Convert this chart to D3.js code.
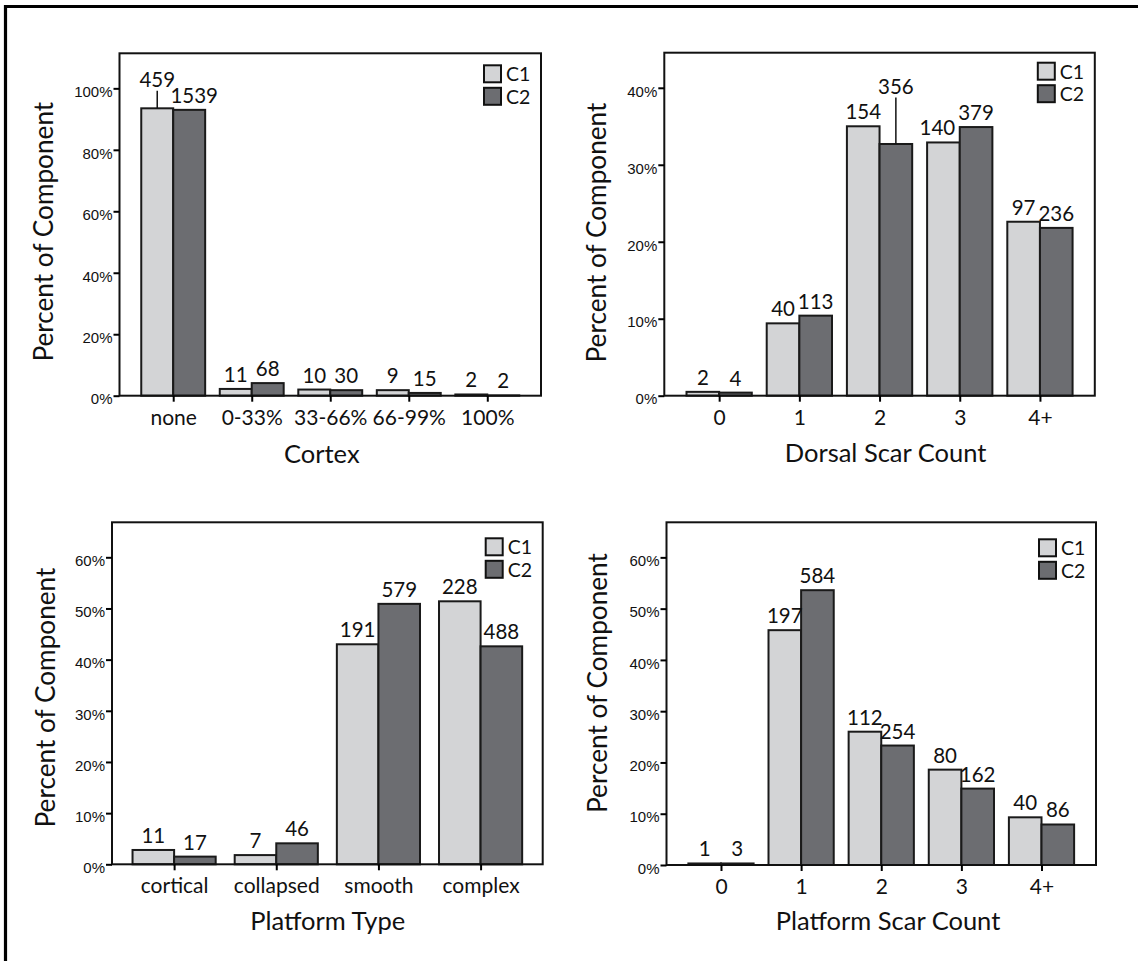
<!DOCTYPE html>
<html>
  <head>
    <meta charset="utf-8">
    <script src="https://d3js.org/d3.v7.min.js"></script>
    <style>
      body {
        margin: 0;
        background: #fff;
      }
      .tick line {
        stroke: #000;
        stroke-width: 2px;
      }
      .ytick text {
        font-family: "Liberation Sans", Arial, sans-serif;
        font-size: 15px;
        fill: #111;
      }
      .cat text, .val, .legend text {
        font-family: Lato, "Open Sans", sans-serif;
        fill: #111;
      }
      .title {
        font-family: Lato, "Open Sans", sans-serif;
        font-size: 25.5px;
        fill: #111;
      }
    </style>
  </head>
  <body>
    <div id="chart"></div>
    <script>
      // ---- data (percent of component, and counts shown above bars) ----
      var cortexCats = ["none", "0-33%", "33-66%", "66-99%", "100%"];
      var cortexC1 = [93.5, 2.2, 2.0, 1.8, 0.4];
      var cortexC2 = [93.0, 4.1, 1.8, 0.9, 0.1];
      var cortexN1 = [459, 11, 10, 9, 2];
      var cortexN2 = [1539, 68, 30, 15, 2];
      var cortexTicks = [0, 20, 40, 60, 80, 100];

      var dorsalCats = ["0", "1", "2", "3", "4+"];
      var dorsalC1 = [0.5, 9.4, 35.0, 32.9, 22.6];
      var dorsalC2 = [0.4, 10.4, 32.7, 34.9, 21.8];
      var dorsalN1 = [2, 40, 154, 140, 97];
      var dorsalN2 = [4, 113, 356, 379, 236];
      var dorsalTicks = [0, 10, 20, 30, 40];

      var ptypeCats = ["cortical", "collapsed", "smooth", "complex"];
      var ptypeC1 = [2.8, 1.8, 43.0, 51.4];
      var ptypeC2 = [1.5, 4.1, 50.9, 42.6];
      var ptypeN1 = [11, 7, 191, 228];
      var ptypeN2 = [17, 46, 579, 488];
      var ptypeTicks = [0, 10, 20, 30, 40, 50, 60];

      var pscarCats = ["0", "1", "2", "3", "4+"];
      var pscarC1 = [0.3, 45.8, 26.0, 18.6, 9.3];
      var pscarC2 = [0.3, 53.6, 23.3, 14.9, 7.9];
      var pscarN1 = [1, 197, 112, 80, 40];
      var pscarN2 = [3, 584, 254, 162, 86];
      var pscarTicks = [0, 10, 20, 30, 40, 50, 60];

      var seriesNames = ["C1", "C2"];
      var fills = ["#d3d4d6", "#6c6d71"];

      // ---- layout ----
      var panels = [
        {cats: cortexCats, v: [cortexC1, cortexC2], n: [cortexN1, cortexN2], ticks: cortexTicks, xTitle: "Cortex",
         left: 119.5, right: 541, top: 53.3, bottom: 395.7, pad: 0.684, legTop: 12,
         ytX: 53, ytY: 231.7, xtX: 321.8, xtY: 463},
        {cats: dorsalCats, v: [dorsalC1, dorsalC2], n: [dorsalN1, dorsalN2], ticks: dorsalTicks, xTitle: "Dorsal Scar Count",
         left: 664.3, right: 1094.8, top: 52.7, bottom: 395.7, pad: 0.684, legTop: 10,
         ytX: 606, ytY: 232.5, xtX: 885.6, xtY: 461.7},
        {cats: ptypeCats, v: [ptypeC1, ptypeC2], n: [ptypeN1, ptypeN2], ticks: ptypeTicks, xTitle: "Platform Type",
         left: 112, right: 542.7, top: 522.3, bottom: 864.3, pad: 0.608, legTop: 16,
         ytX: 55, ytY: 697.5, xtX: 327.7, xtY: 930},
        {cats: pscarCats, v: [pscarC1, pscarC2], n: [pscarN1, pscarN2], ticks: pscarTicks, xTitle: "Platform Scar Count",
         left: 666.5, right: 1096, top: 522.3, bottom: 865, pad: 0.68, legTop: 17,
         ytX: 607, ytY: 683, xtX: 888, xtY: 930}
      ];

      // labels lifted up with a leader line (label level in data units), and small sideways nudges
      var raised = [
        {panel: 0, cat: 0, s: 0, at: 98.2},
        {panel: 1, cat: 2, s: 1, at: 38.35}
      ];
      var nudges = [
        {panel: 0, cat: 0, s: 1, dx: 5},
        {panel: 1, cat: 3, s: 0, dx: -6}
      ];

      var svg = d3.select("#chart").append("svg")
        .attr("width", 1138)
        .attr("height", 961);

      // page frame (top and left edges only)
      svg.append("line").attr("x1", 4).attr("x2", 1138).attr("y1", 6.5).attr("y2", 6.5)
        .attr("stroke", "#000").attr("stroke-width", 3.2);
      svg.append("line").attr("x1", 5.5).attr("x2", 5.5).attr("y1", 5).attr("y2", 961)
        .attr("stroke", "#000").attr("stroke-width", 3.2);

      panels.forEach(function(p, pi) {
        var g = svg.append("g");
        var maxTick = p.ticks[p.ticks.length - 1];

        var y = d3.scaleLinear().domain([0, maxTick * 1.114]).range([p.bottom, p.top]);
        var x = d3.scalePoint().domain(p.cats).range([p.left, p.right]).padding(p.pad);
        var hw = x.step() * 0.407;

        // bars
        p.v.forEach(function(vals, s) {
          g.append("g").selectAll("rect")
            .data(vals)
            .enter().append("rect")
            .attr("x", function(d, i) { return s == 0 ? x(p.cats[i]) - hw : x(p.cats[i]); })
            .attr("y", function(d) { return y(d); })
            .attr("width", hw)
            .attr("height", function(d) { return y(0) - y(d); })
            .attr("fill", fills[s])
            .attr("stroke", "#1a1a1a")
            .attr("stroke-width", 2);
        });

        // plot box
        g.append("rect")
          .attr("x", p.left).attr("y", p.top)
          .attr("width", p.right - p.left).attr("height", p.bottom - p.top)
          .attr("fill", "none").attr("stroke", "#111").attr("stroke-width", 2);

        // y axis
        var ya = g.append("g").attr("class", "ytick")
          .attr("transform", "translate(" + p.left + ",0)")
          .call(d3.axisLeft(y).tickValues(p.ticks).tickFormat(function(d) { return d + "%"; })
            .tickSize(6).tickPadding(1));
        ya.select(".domain").remove();
        ya.selectAll("text").attr("dy", "0.55em");

        // x axis
        var xa = g.append("g").attr("class", "cat")
          .attr("transform", "translate(0," + p.bottom + ")")
          .call(d3.axisBottom(x).tickSize(6).tickPadding(8));
        xa.select(".domain").remove();
        xa.selectAll("text").style("font-size", "21px");

        // value labels
        p.v.forEach(function(vals, s) {
          vals.forEach(function(d, i) {
            var cx = s == 0 ? x(p.cats[i]) - hw / 2 : x(p.cats[i]) + hw / 2;
            var ty = y(d) - 7;
            var r = raised.find(function(a) { return a.panel == pi && a.cat == i && a.s == s; });
            var nd = nudges.find(function(a) { return a.panel == pi && a.cat == i && a.s == s; });
            if (r) {
              ty = y(r.at) - 7;
              g.append("line")
                .attr("x1", cx).attr("x2", cx)
                .attr("y1", ty + 4).attr("y2", y(d))
                .attr("stroke", "#111").attr("stroke-width", 1.5);
            }
            g.append("text").attr("class", "val")
              .attr("x", cx + (nd ? nd.dx : 0))
              .attr("y", ty)
              .attr("text-anchor", "middle")
              .style("font-size", "20.5px")
              .text(p.n[s][i]);
          });
        });

        // legend
        var lg = g.append("g").attr("class", "legend");
        seriesNames.forEach(function(name, s) {
          var sy = p.top + p.legTop + s * 22.5;
          lg.append("rect")
            .attr("x", p.right - 57).attr("y", sy)
            .attr("width", 17).attr("height", 17)
            .attr("fill", fills[s]).attr("stroke", "#111").attr("stroke-width", 2);
          lg.append("text")
            .attr("x", p.right - 35).attr("y", sy + 16)
            .style("font-size", "19.5px")
            .text(name);
        });

        // titles
        g.append("text").attr("class", "title")
          .attr("transform", "translate(" + p.ytX + "," + p.ytY + ") rotate(-90)")
          .attr("text-anchor", "middle")
          .style("font-size", "26.2px")
          .text("Percent of Component");
        g.append("text").attr("class", "title")
          .attr("x", p.xtX).attr("y", p.xtY)
          .attr("text-anchor", "middle")
          .text(p.xTitle);
      });
    </script>
  </body>
</html>
